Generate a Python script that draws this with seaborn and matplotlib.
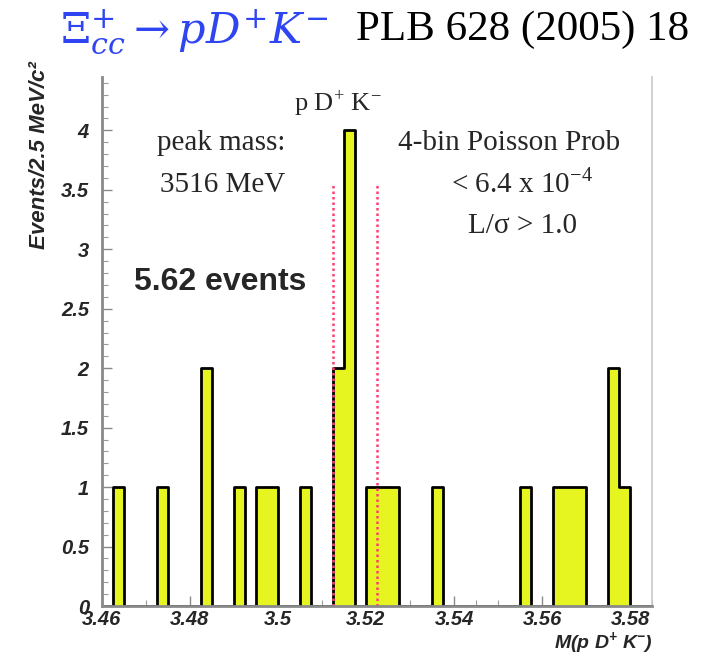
import numpy as np
import pandas as pd
import matplotlib
matplotlib.use("Agg")
import matplotlib.pyplot as plt
import seaborn as sns

# ---------------- data ----------------
bin_low_edge_gev = [3.4625, 3.4725, 3.4825, 3.4900, 3.4950, 3.4975, 3.5050,
                    3.5125, 3.5150, 3.5200, 3.5225, 3.5250, 3.5350, 3.5550,
                    3.5625, 3.5650, 3.5675, 3.5750, 3.5775]
events = [1, 1, 2, 1, 1, 1, 1, 2, 4, 1, 1, 1, 1, 1, 1, 1, 1, 2, 1]
bin_width = 0.0025
x_min, x_max = 3.46, 3.585
window_edges = [3.5125, 3.5225]
window_height = 3.55
x_ticks = [3.46, 3.48, 3.50, 3.52, 3.54, 3.56, 3.58]
x_tick_labels = ["3.46", "3.48", "3.5", "3.52", "3.54", "3.56", "3.58"]
y_ticks = [0, 0.5, 1, 1.5, 2, 2.5, 3, 3.5, 4]
y_tick_labels = ["0", "0.5", "1", "1.5", "2", "2.5", "3", "3.5", "4"]

df = pd.DataFrame({"mass": np.array(bin_low_edge_gev) + bin_width / 2,
                   "n": events})
n_bins = int(round((x_max - x_min) / bin_width))

sns.set_theme(style="white")
plt.rcParams["font.family"] = ["Liberation Sans", "DejaVu Sans"]
plt.rcParams["mathtext.fontset"] = "dejavuserif"

fig = plt.figure(figsize=(7.01, 6.59), dpi=100)
ax = fig.add_axes([0.1448, 0.0804, 0.786, 0.803])

fill_col = "#E6F520"
sns.histplot(data=df, x="mass", weights="n", bins=n_bins,
             binrange=(x_min, x_max), element="step",
             fill=True, color=fill_col, alpha=1.0, linewidth=0, ax=ax)
sns.histplot(data=df, x="mass", weights="n", bins=n_bins,
             binrange=(x_min, x_max), element="step",
             fill=False, color="black", linewidth=2.0, ax=ax)

ax.vlines(window_edges, 0, window_height, colors="#FF3F6E",
          linestyles=(0, (1, 1.2)), linewidth=1.8, zorder=3)

ax.set_xlim(x_min, x_max)
ax.set_ylim(0, 4.45)
ax.set_xlabel("")
ax.set_ylabel("")

ax.set_xticks(x_ticks)
ax.set_xticklabels(x_tick_labels)
ax.set_xticks(np.arange(x_min, x_max + 1e-9, 0.005), minor=True)
ax.set_yticks(y_ticks)
ax.set_yticklabels(y_tick_labels)
ax.set_yticks(np.arange(0, 4.45, 0.1), minor=True)

tick_font = dict(family=["Liberation Sans", "DejaVu Sans"], weight="bold",
                 style="italic", size=14.5)
for lab in ax.get_xticklabels() + ax.get_yticklabels():
    lab.set_fontproperties(matplotlib.font_manager.FontProperties(**tick_font))

ax.tick_params(axis="both", which="major", direction="in", length=7,
               width=1.0, color="#8a8a8a", bottom=True, left=True)
ax.tick_params(axis="both", which="minor", direction="in", length=4,
               width=0.8, color="#9a9a9a", bottom=True, left=True)
ax.tick_params(axis="x", which="major", pad=3)
ax.tick_params(axis="y", which="major", pad=9)

for side in ["left", "bottom"]:
    ax.spines[side].set_color("#8a8a8a")
    ax.spines[side].set_linewidth(2.0)
    ax.spines[side].set_zorder(5)
ax.spines["right"].set_color("#c8c8c8")
ax.spines["right"].set_linewidth(1.2)
ax.spines["top"].set_visible(False)

serif = ["Liberation Serif", "DejaVu Serif"]
ax.text(0.429, 0.934, r"p D$^{\mathregular{+}}$ K$^{\mathregular{-}}$",
        transform=ax.transAxes, ha="center", va="baseline",
        family=serif, size=19)
ax.text(0.218, 0.862, "peak mass:", transform=ax.transAxes, ha="center",
        va="baseline", family=serif, size=21)
ax.text(0.219, 0.783, "3516 MeV", transform=ax.transAxes, ha="center",
        va="baseline", family=serif, size=21)
ax.text(0.739, 0.862, "4-bin Poisson Prob", transform=ax.transAxes,
        ha="center", va="baseline", family=serif, size=21)
ax.text(0.763, 0.781, r"< 6.4 x 10$^{\mathregular{-4}}$",
        transform=ax.transAxes, ha="center", va="baseline",
        family=serif, size=21)
ax.text(0.764, 0.705, "L/σ > 1.0", transform=ax.transAxes, ha="center",
        va="baseline", family=serif, size=21)
ax.text(0.215, 0.597, "5.62 events", transform=ax.transAxes, ha="center",
        va="baseline", family=["Liberation Sans", "DejaVu Sans"],
        weight="bold", size=23)

# titles
fig.text(0.0856, 0.935, r"$\Xi_{cc}^{+} \rightarrow pD^{+}K^{-}$",
         color="#2F45F2", ha="left", va="baseline", size=31)
fig.text(0.508, 0.939, "PLB 628 (2005) 18", ha="left", va="baseline",
         family=serif, size=31, color="black")

# axis labels (ROOT style)
fig.text(40 / 701, 1 - 61 / 659, "Events/2.5 MeV/c²", rotation=90,
         ha="center", va="top", family=["Liberation Sans", "DejaVu Sans"],
         weight="bold", style="italic", size=16)
fig.text(653 / 701, 1 - 648 / 659,
         r"M(p D$^{\mathregular{+}}$ K$^{\mathregular{-}}$)",
         ha="right", va="baseline", family=["Liberation Sans", "DejaVu Sans"],
         weight="bold", style="italic", size=14)

fig.savefig("out.png", dpi=100)
